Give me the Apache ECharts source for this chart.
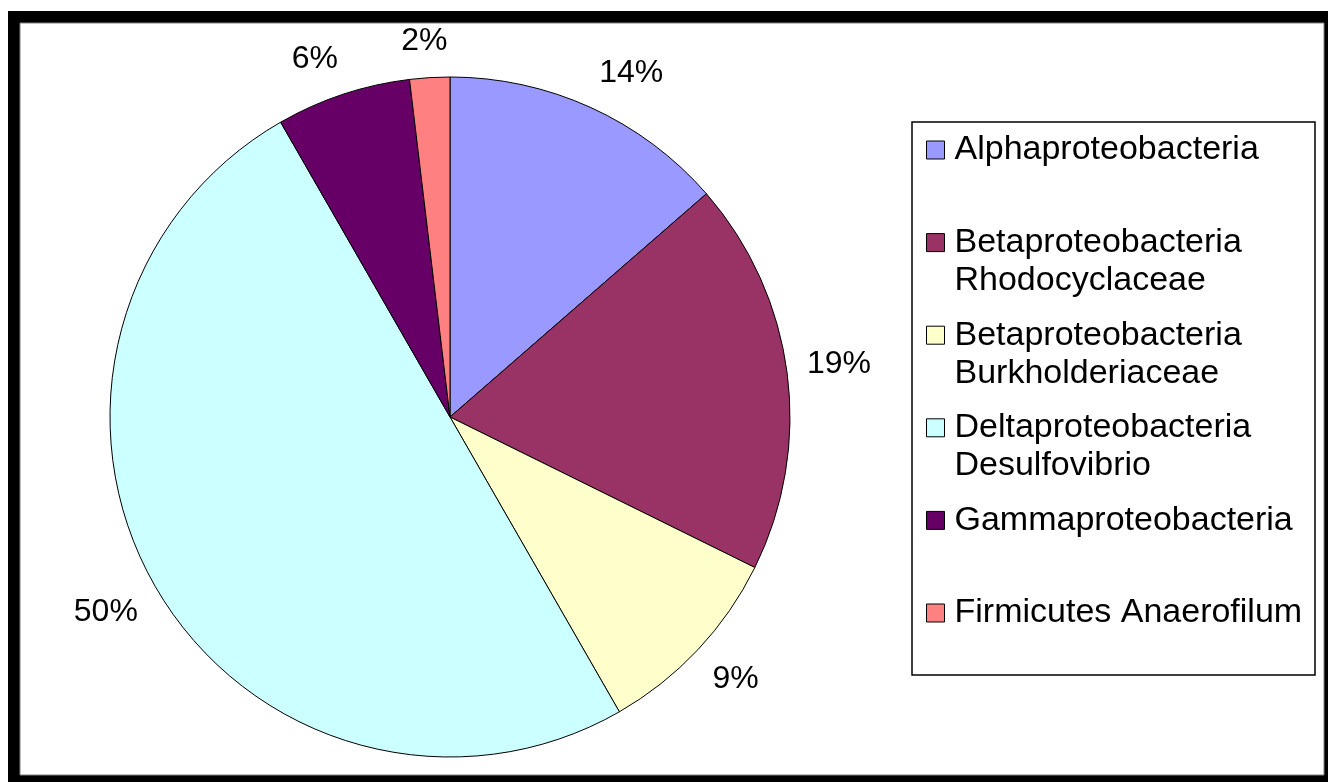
<!DOCTYPE html>
<html>
<head>
<meta charset="utf-8">
<script src="https://cdn.jsdelivr.net/npm/echarts@6/dist/echarts.min.js"></script>
<style>
  html, body { margin: 0; padding: 0; background: #fff; }
  #chart { width: 1328px; height: 782px; }
</style>
</head>
<body>
<div id="chart"></div>
<script>
// slice names (legend text) and values
const names = [
  'Alphaproteobacteria',
  'Betaproteobacteria\nRhodocyclaceae',
  'Betaproteobacteria\nBurkholderiaceae',
  'Deltaproteobacteria\nDesulfovibrio',
  'Gammaproteobacteria',
  'Firmicutes Anaerofilum'
];
const values = [13.6, 18.7, 9.4, 50.0, 6.4, 1.9];
const colors = ['#9999FF', '#993366', '#FFFFCC', '#CCFFFF', '#660066', '#FF8080'];

const font = "'Liberation Sans', Arial, sans-serif";
const cx = 450, cy = 417, R = 340;
const gap = 20;      // rim to label corner
const lh = 38;       // legend line height

let total = 0;
values.forEach(v => total += v);

function clamp(v) { return Math.max(-1, Math.min(1, v)); }

// excel style: label box corner sits just outside the rim on the mid angle
function placeLabel(p) {
  let before = 0;
  for (let j = 0; j < p.dataIndex; j++) before += values[j];
  const ang = (before + values[p.dataIndex] / 2) / total * Math.PI * 2;
  const sx = Math.sin(ang), sy = -Math.cos(ang);
  const w = p.labelRect.width, h = p.labelRect.height;
  const px = cx + (R + gap) * sx, py = cy + (R + gap) * sy;
  return {
    x: px + clamp(3 * sx) * w / 2,
    y: py + clamp(3 * sy) * h / 2,
    align: 'center',
    verticalAlign: 'middle'
  };
}

const chart = echarts.init(document.getElementById('chart'));

// one legend per entry; a leading blank line keeps the icon on the first text line
const legends = names.map((n, i) => {
  const multi = n.indexOf('\n') >= 0;
  const mid = 150 + i * 92.6;
  return {
    orient: 'vertical',
    left: 926,
    top: mid - (multi ? 1.5 : 0.5) * lh,
    padding: 0,
    itemWidth: 18,
    itemHeight: 18,
    icon: 'rect',
    selectedMode: false,
    itemStyle: { borderColor: '#000', borderWidth: 1 },
    data: [n],
    formatter: name => (name.indexOf('\n') >= 0 ? '\n' + name : name),
    textStyle: {
      fontFamily: font,
      fontSize: 34,
      lineHeight: lh,
      color: '#000',
      padding: [0, 0, 0, 5]
    }
  };
});

const option = {
  animation: false,
  backgroundColor: '#fff',
  color: colors,
  graphic: [
    { type: 'rect', z: -10, shape: { x: 8, y: 11, width: 1400, height: 900 }, style: { fill: '#000' } },
    { type: 'rect', z: -9, shape: { x: 20, y: 23, width: 1304, height: 752 }, style: { fill: '#fff', stroke: '#808080', lineWidth: 1 } },
    { type: 'rect', z: -8, shape: { x: 912, y: 122, width: 403, height: 553 }, style: { fill: 'none', stroke: '#000', lineWidth: 1.5 } }
  ],
  legend: legends,
  series: [{
    type: 'pie',
    center: [cx, cy],
    radius: R,
    startAngle: 90,
    clockwise: true,
    avoidLabelOverlap: false,
    percentPrecision: 0,
    itemStyle: { borderColor: '#000', borderWidth: 1 },
    label: {
      show: true,
      position: 'outside',
      formatter: '{d}%',
      fontFamily: font,
      fontSize: 32,
      lineHeight: 32,
      color: '#000'
    },
    labelLine: { show: false },
    labelLayout: placeLabel,
    emphasis: { disabled: true },
    data: names.map((n, i) => ({ name: n, value: values[i] }))
  }]
};

chart.setOption(option);
</script>
</body>
</html>
